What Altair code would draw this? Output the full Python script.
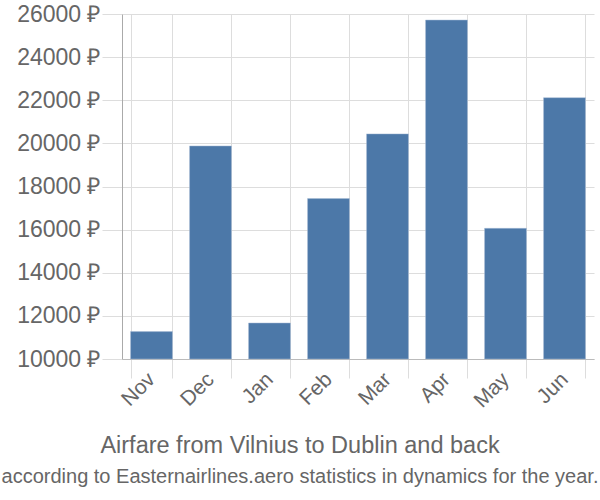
import altair as alt
import pandas as pd

months = ["Nov", "Dec", "Jan", "Feb", "Mar", "Apr", "May", "Jun"]
prices = [11270, 19880, 11670, 17440, 20440, 25720, 16060, 22120]
y_ticks = [10000, 12000, 14000, 16000, 18000, 20000, 22000, 24000, 26000]
base_value = 10000

df = pd.DataFrame({"month": months, "price": prices, "base": [base_value] * len(months)})

FONT = "Liberation Sans"
TXT = "#666666"

chart = alt.Chart(df).mark_bar(color="#4c78a8", stroke="#a9bdd6", strokeWidth=0.5).encode(
    x=alt.X("month:N", sort=months, title=None,
            scale=alt.Scale(paddingInner=0.29, paddingOuter=0.145),
            axis=alt.Axis(labelAngle=-45, labelFontSize=21, labelColor=TXT, labelFont=FONT,
                          tickBand="extent", grid=True, gridColor="#dddddd",
                          tickColor="#dddddd", tickSize=19, domainColor="#bbbbbb",
                          labelPadding=-2, labelAlign="right", labelBaseline="middle")),
    y=alt.Y("price:Q", title=None,
            scale=alt.Scale(domain=[10000, 26000], nice=False, zero=False),
            axis=alt.Axis(values=y_ticks, labelExpr="datum.value + ' ₽'",
                          labelFontSize=23, labelColor=TXT, labelFont=FONT,
                          gridColor="#dddddd", tickColor="#dddddd", tickSize=20,
                          domainColor="#aaaaaa", labelPadding=2)),
    y2=alt.Y2("base:Q"),
).properties(
    width=472, height=345,
    title=alt.TitleParams(
        text="Airfare from Vilnius to Dublin and back",
        subtitle="according to Easternairlines.aero statistics in dynamics for the year.",
        orient="bottom", anchor="middle", font=FONT, fontSize=23.5, fontWeight="normal",
        color=TXT, subtitleFont=FONT, subtitleFontSize=20, subtitleColor=TXT,
        offset=23, subtitlePadding=9, dx=-58, limit=800,
    ),
    autosize=alt.AutoSizeParams(type="none"),
    padding={"left": 122, "top": 14, "right": 6, "bottom": 141},
).configure_view(stroke=None)

chart.save("out.html", embed_options={"renderer": "svg", "actions": False})
